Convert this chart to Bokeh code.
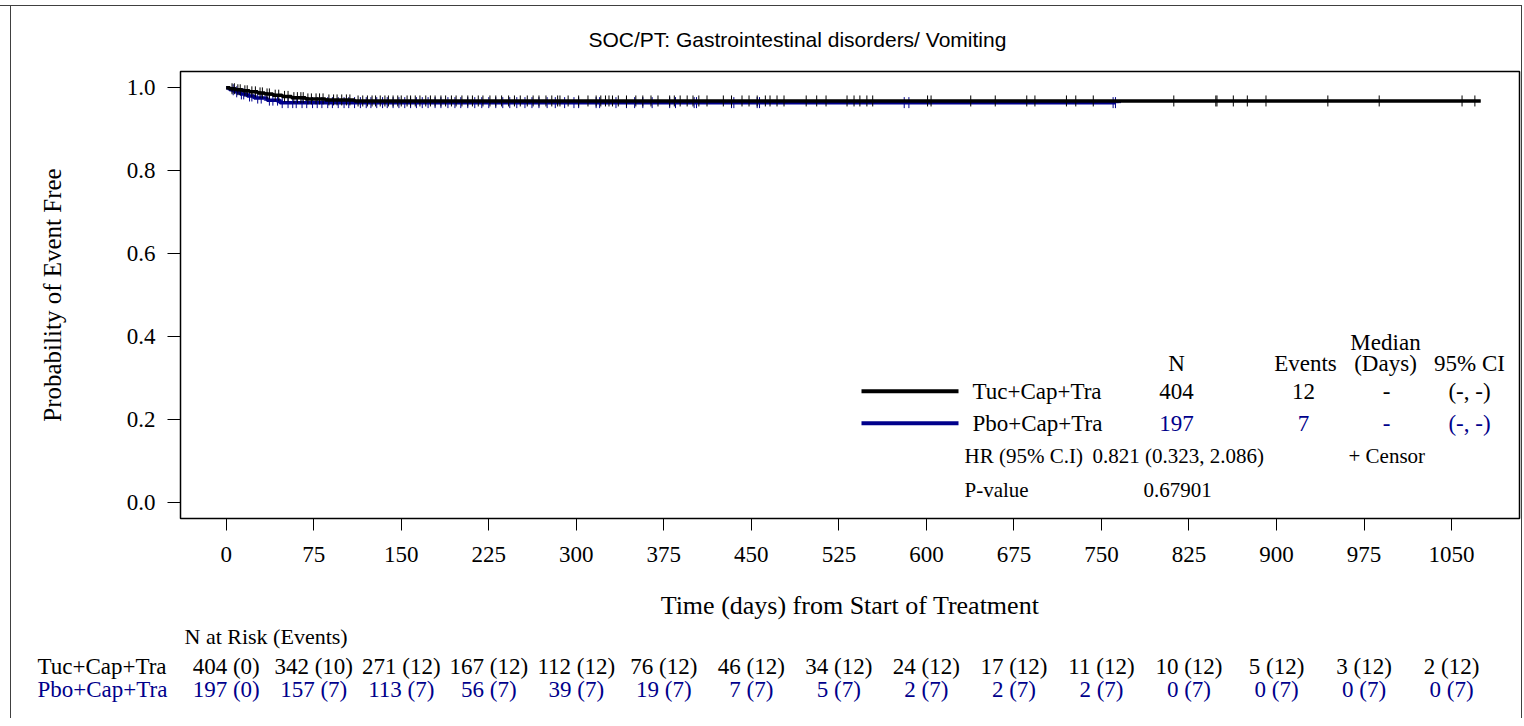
import numpy as np
from bokeh.plotting import figure
from bokeh.models import Range1d, FixedTicker, NumeralTickFormatter
from bokeh.layouts import column
from bokeh.embed import file_html
from bokeh.resources import INLINE
from bokeh.core.properties import value

# ---------------- data ----------------
title_text = "SOC/PT: Gastrointestinal disorders/ Vomiting"
x_ticks = [0, 75, 150, 225, 300, 375, 450, 525, 600, 675, 750, 825, 900, 975, 1050]
y_ticks = [0.0, 0.2, 0.4, 0.6, 0.8, 1.0]

group_names = ["Tuc+Cap+Tra", "Pbo+Cap+Tra"]

# Kaplan-Meier step points (day, survival)
tuc_days = [0, 3, 8, 14, 20, 27, 33, 40, 48, 56, 68, 85, 110, 1075]
tuc_surv = [1.0, 0.9975, 0.995, 0.9925, 0.990, 0.9875, 0.985, 0.982, 0.979, 0.976, 0.973, 0.9705, 0.968, 0.968]
pbo_days = [0, 3, 7, 12, 18, 24, 35, 46, 762]
pbo_surv = [1.0, 0.995, 0.990, 0.985, 0.980, 0.975, 0.970, 0.964, 0.964]

# censor times (days)
tuc_censor = [5, 7, 10, 12, 16, 18, 22, 25, 29, 31, 35, 37, 42, 45, 50, 53, 58, 61, 64, 66,
              70, 73, 77, 80, 83, 88, 92, 95, 99, 103, 106, 113, 117, 121, 125, 128, 132, 136,
              139, 143, 147, 150, 155, 158, 162, 166, 171, 175, 179, 184, 188, 193, 197, 202,
              207, 211, 216, 220, 226, 231, 236, 242, 247, 252, 258, 263, 268, 274, 279, 284,
              286, 293, 302, 310, 317, 321, 325, 328, 331, 336, 343, 351, 357, 364, 370, 380,
              384, 389, 395, 400, 405, 412, 426, 433, 442, 448, 455, 462, 466, 472, 478, 497,
              506, 514, 532, 538, 543, 549, 554, 601, 604, 638, 659, 686, 693, 720, 728, 743,
              812, 848, 849, 863, 875, 891, 944, 988, 1059, 1070]
pbo_censor = [6, 9, 13, 15, 20, 22, 27, 30, 37, 40, 44, 48, 53, 57, 60, 65, 69, 74, 78, 82,
              87, 91, 96, 101, 105, 110, 115, 120, 124, 129, 134, 138, 143, 148, 153, 158, 163,
              168, 173, 179, 184, 190, 196, 201, 207, 213, 219, 225, 231, 237, 243, 249, 256,
              262, 268, 275, 282, 290, 298, 302, 317, 320, 334, 343, 350, 357, 365, 380, 385,
              401, 403, 433, 435, 455, 457, 581, 585, 760, 762]

# summary table
n_total = ["404", "197"]
n_events = ["12", "7"]
median_days = ["-", "-"]
median_ci = ["(-, -)", "(-, -)"]
hr_text = "0.821 (0.323, 2.086)"
p_value = "0.67901"

# number at risk (events)
tuc_risk = [404, 342, 271, 167, 112, 76, 46, 34, 24, 17, 11, 10, 5, 3, 2]
tuc_risk_ev = [0, 10, 12, 12, 12, 12, 12, 12, 12, 12, 12, 12, 12, 12, 12]
pbo_risk = [197, 157, 113, 56, 39, 19, 7, 5, 2, 2, 2, 0, 0, 0, 0]
pbo_risk_ev = [0, 7, 7, 7, 7, 7, 7, 7, 7, 7, 7, 7, 7, 7, 7]

# ---------------- style / layout constants ----------------
BLACK = "#000000"
BLUE = "#00008B"
BORDER = "#404040"
SERIF = "Liberation Serif"
SANS = "Liberation Sans"

# page-pixel geometry (page origin = canvas origin)
X0_PX, PX_PER_DAY = 225.7, 1.167     # day 0 position, scale
Y0_PX, Y1_PX = 505.0, 87.3           # prob 0 and prob 1 positions
F_L, F_R, F_T, F_B = 180, 1519, 71, 521
W = 1522
H1, H2 = 622, 96


def dx(px):
    return (px - X0_PX) / PX_PER_DAY


def dy(py):
    return (Y0_PX - py) / (Y0_PX - Y1_PX)


p = figure(width=W, height=H1, output_backend="svg", toolbar_location=None,
           x_range=Range1d(dx(F_L), dx(F_R)), y_range=Range1d(dy(F_B), dy(F_T)),
           min_border_left=F_L, min_border_right=W - F_R,
           min_border_top=F_T, min_border_bottom=H1 - F_B)
p.grid.visible = False
p.outline_line_color = BLACK
p.outline_line_width = 1.5
p.background_fill_color = "white"
p.border_fill_color = None

p.title.text = title_text
p.title.align = "left"
p.title.offset = 408
p.title.text_font = SANS
p.title.text_font_size = "21px"
p.title.text_font_style = "normal"
p.title.text_color = BLACK
p.title.standoff = 41

for ax in (p.xaxis[0], p.yaxis[0]):
    ax.axis_line_color = None
    ax.major_tick_line_color = BLACK
    ax.major_tick_in = 0
    ax.minor_tick_line_color = None
    ax.major_label_text_font = SERIF
    ax.major_label_text_font_size = "23px"
    ax.major_label_text_color = BLACK
    ax.axis_label_text_font = SERIF
    ax.axis_label_text_font_style = "normal"
    ax.axis_label_text_color = BLACK

p.xaxis.ticker = FixedTicker(ticks=x_ticks)
p.xaxis.major_tick_out = 12
p.xaxis.major_label_standoff = 16
p.xaxis.axis_label = "Time (days) from Start of Treatment"
p.xaxis.axis_label_text_font_size = "26px"
p.xaxis.axis_label_standoff = 26

p.yaxis.ticker = FixedTicker(ticks=y_ticks)
p.yaxis.formatter = NumeralTickFormatter(format="0.0")
p.yaxis.major_tick_out = 13
p.yaxis.major_label_standoff = 12
p.yaxis.axis_label = "Probability of Event Free"
p.yaxis.axis_label_text_font_size = "25px"
p.yaxis.axis_label_standoff = 58


def surv_at(days, surv, t):
    i = np.searchsorted(np.asarray(days), t, side="right") - 1
    return [surv[k] for k in i]


# curves: blue first, black on top
p.step(pbo_days, pbo_surv, mode="after", line_color=BLUE, line_width=3.5)
p.scatter(pbo_censor, surv_at(pbo_days, pbo_surv, pbo_censor), marker="cross",
          size=11, line_color=BLUE, line_width=1)
p.step(tuc_days, tuc_surv, mode="after", line_color=BLACK, line_width=3.5)
p.scatter(tuc_censor, surv_at(tuc_days, tuc_surv, tuc_censor), marker="cross",
          size=11, line_color=BLACK, line_width=1)


# ---------------- in-plot summary legend ----------------
def txt(fig, x, y, s, color=BLACK, size="23px", align="center"):
    fig.text(x=[x], y=[y], text=[s], text_color=color, text_font=value(SERIF),
             text_font_size=size, text_align=align, text_baseline="middle")


txt(p, dx(1385), dy(344), "Median")
for cx, s in [(1176, "N"), (1305, "Events"), (1385, "(Days)"), (1469, "95% CI")]:
    txt(p, dx(cx), dy(365), s)

row_y = [393, 425]
row_col = [BLACK, BLUE]
for k in range(2):
    p.line([dx(861), dx(958)], [dy(row_y[k])] * 2, line_color=row_col[k], line_width=4)
    txt(p, dx(972), dy(row_y[k]), group_names[k], BLACK, align="left")
    txt(p, dx(1176), dy(row_y[k]), n_total[k], row_col[k])
    txt(p, dx(1303), dy(row_y[k]), n_events[k], row_col[k])
    txt(p, dx(1386), dy(row_y[k]), median_days[k], row_col[k])
    txt(p, dx(1469), dy(row_y[k]), median_ci[k], row_col[k])

txt(p, dx(964), dy(458), "HR (95% C.I)", size="21px", align="left")
txt(p, dx(1092), dy(458), hr_text, size="21px", align="left")
txt(p, dx(1348), dy(458), "+ Censor", size="21px", align="left")
txt(p, dx(964), dy(492), "P-value", size="21px", align="left")
txt(p, dx(1143), dy(492), p_value, size="21px", align="left")

# ---------------- number-at-risk table (full-width frame) ----------------
r = figure(width=W, height=H2, output_backend="svg", toolbar_location=None,
           x_range=Range1d(dx(0), dx(W)), y_range=Range1d(H1 + H2, H1),
           min_border=0, x_axis_location=None, y_axis_location=None)
r.grid.visible = False
r.outline_line_color = None
r.background_fill_color = None
r.border_fill_color = None
for fig in (p, r):
    if "frame_align" in fig.properties():
        fig.frame_align = False

ROW_Y = [666, 689]
txt(r, dx(184), 636, "N at Risk (Events)", size="22px", align="left")
for k, col in enumerate(row_col):
    txt(r, dx(37), ROW_Y[k], group_names[k], col, align="left")
tuc_lab = [f"{a} ({b})" for a, b in zip(tuc_risk, tuc_risk_ev)]
pbo_lab = [f"{a} ({b})" for a, b in zip(pbo_risk, pbo_risk_ev)]
r.text(x=x_ticks, y=[ROW_Y[0]] * len(x_ticks), text=tuc_lab, text_color=BLACK,
       text_font=value(SERIF), text_font_size="23px", text_align="center",
       text_baseline="middle")
r.text(x=x_ticks, y=[ROW_Y[1]] * len(x_ticks), text=pbo_lab, text_color=BLUE,
       text_font=value(SERIF), text_font_size="23px", text_align="center",
       text_baseline="middle")

shadow = ("inset 0 5px 0 white, inset 0 6px 0 %s, inset 10px 0 0 white, "
          "inset 11px 0 0 %s, inset -1px 0 0 %s") % (BORDER, BORDER, BORDER)
layout = column(p, r, spacing=0, styles={"box-shadow": shadow})
open("out.html", "w").write(file_html(layout, INLINE))
